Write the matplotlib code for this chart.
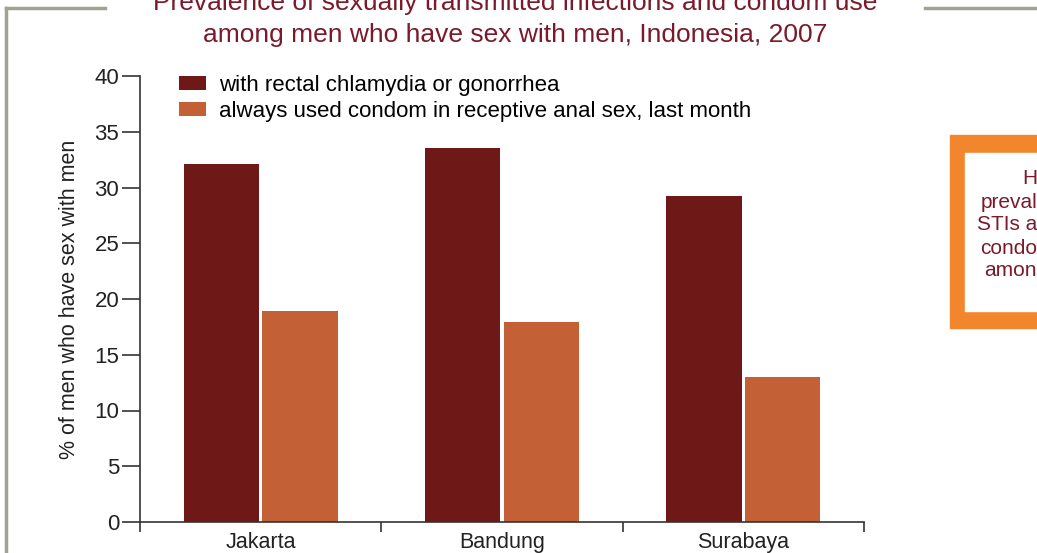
import numpy as np
import matplotlib
matplotlib.use('Agg')
import matplotlib.pyplot as plt
from matplotlib.patches import Rectangle
from matplotlib.lines import Line2D

plt.rcParams['font.family'] = ['Liberation Sans', 'DejaVu Sans']

cities = ['Jakarta', 'Bandung', 'Surabaya']
chlamydia = [32.1, 33.5, 29.2]
condom = [18.9, 17.9, 13.0]
series_labels = ['with rectal chlamydia or gonorrhea',
                 'always used condom in receptive anal sex, last month']
title = 'Prevalence of sexually transmitted infections and condom use\namong men who have sex with men, Indonesia, 2007'
side_lines = ['H', 'preval', 'STIs a', 'condo', 'amon']

dark = '#6f1818'
light = '#c46036'
title_col = '#7a1a2c'
W, H = 1037, 553


def main():
    fig = plt.figure(figsize=(W / 100, H / 100), dpi=100)
    draw_page(fig)

    ax = fig.add_axes([140 / W, 31 / H, 724 / W, 446 / H])
    x = np.arange(len(cities))
    bw = 0.313
    ax.bar(x - 0.163, chlamydia, bw, color=dark, label=series_labels[0])
    ax.bar(x + 0.163, condom, bw, color=light, label=series_labels[1])

    ax.set_xlim(-0.5, 2.5)
    ax.set_ylim(0, 40)
    for s in ['top', 'right']:
        ax.spines[s].set_visible(False)
    for s in ['left', 'bottom']:
        ax.spines[s].set_color('#333333')
        ax.spines[s].set_linewidth(1.2)

    ax.set_yticks(np.arange(0, 41, 5))
    ax.tick_params(axis='y', length=13, width=1.2, color='#333333',
                   labelsize=16, labelcolor='#222222', pad=2)
    ax.set_xticks([-0.5, 0.5, 1.5, 2.5])
    ax.set_xticklabels([])
    ax.tick_params(axis='x', which='major', length=7, width=1.2, color='#333333')
    ax.set_xticks(x, minor=True)
    ax.set_xticklabels(cities, minor=True)
    ax.tick_params(axis='x', which='minor', length=0, labelsize=15.5,
                   labelcolor='#222222', pad=7)

    ax.set_ylabel('% of men who have sex with men', fontsize=15.5,
                  color='#222222', labelpad=10)

    ax.legend(loc='upper left', bbox_to_anchor=(0.041, 1.022), frameon=False,
              fontsize=16, handlelength=1.25, handleheight=0.6,
              handletextpad=0.55, labelspacing=0.2, borderaxespad=0)

    fig.text(515 / W, 1 - 19 / H, title, ha='center', va='center',
             fontsize=19, color=title_col, linespacing=1.42)

    fig.savefig('out.png', dpi=100)


def draw_page(fig):
    grey = '#a3a292'
    fig.add_artist(Line2D([6 / W, 105 / W], [1 - 8 / H, 1 - 8 / H],
                          color=grey, lw=2.5, transform=fig.transFigure))
    fig.add_artist(Line2D([925 / W, 1], [1 - 8 / H, 1 - 8 / H],
                          color=grey, lw=2.5, transform=fig.transFigure))
    fig.add_artist(Line2D([6 / W, 6 / W], [0, 1 - 8 / H],
                          color=grey, lw=2.5, transform=fig.transFigure))

    # orange call-out box cut off at the right edge
    fig.add_artist(Rectangle((950 / W, 1 - 328 / H), 100 / W, 193 / H,
                             color='#f2862c', transform=fig.transFigure))
    fig.add_artist(Rectangle((965 / W, 1 - 311 / H), 100 / W, 158 / H,
                             color='white', transform=fig.transFigure))
    ys = [178, 203, 225, 248, 270]
    for t, yy in zip(side_lines, ys):
        fig.text(1.0, 1 - yy / H, t, ha='right', va='center', fontsize=15,
                 color=title_col)


if __name__ == '__main__':
    main()
